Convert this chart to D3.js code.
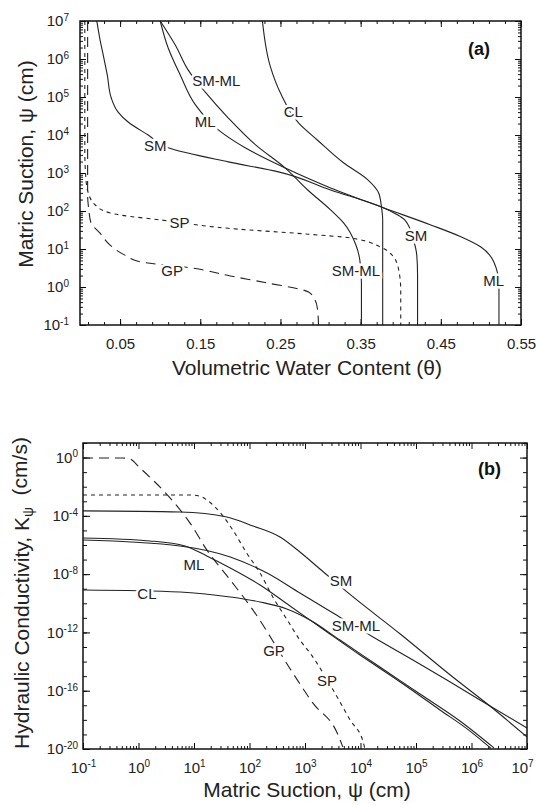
<!DOCTYPE html>
<html>
<head>
<meta charset="utf-8">
<script src="https://cdn.jsdelivr.net/npm/d3@7"></script>
<style>
  body { margin: 0; background: #fff; }
  svg { display: block; font-family: "Liberation Sans", Arial, Helvetica, sans-serif; }
</style>
</head>
<body>
<div id="chart"></div>
<script>
// ---- (a) water retention curves, [theta, psi (cm)] ----
const gpRetention = [[0.0095, 1e7], [0.0095, 260], [0.011, 107], [0.0135, 50], [0.025, 26], [0.0375, 12.7],
  [0.056, 6.9], [0.0775, 4.5], [0.1375, 3.2], [0.1875, 1.95], [0.234, 1.27], [0.285, 0.74], [0.2925, 0.48],
  [0.296, 0.28], [0.2975, 0.1]];
const spRetention = [[0.006, 1e7], [0.006, 4e3], [0.0075, 660], [0.01, 316], [0.019, 144], [0.0375, 89],
  [0.051, 78], [0.101, 58], [0.185, 35], [0.285, 24.5], [0.3375, 19.5], [0.375, 11.2], [0.391, 6.2],
  [0.3975, 2.8], [0.40, 0.83], [0.40, 0.1]];
const smRetention = [[0.021, 1e7], [0.025, 3.2e6], [0.029, 1.27e6], [0.034, 3.8e5], [0.039, 9.4e4],
  [0.0475, 4.0e4], [0.06, 2.2e4], [0.085, 1.0e4], [0.11, 4.6e3], [0.185, 1.96e3], [0.2475, 1.07e3],
  [0.3125, 357], [0.376, 127], [0.406, 55], [0.416, 17], [0.42, 6.9], [0.421, 2.1], [0.421, 0.1]];
const smmlRetention = [[0.10, 1e7], [0.119, 2.3e6], [0.135, 5.1e5], [0.156, 1.36e5], [0.185, 2.8e4],
  [0.219, 5.5e3], [0.256, 1.35e3], [0.284, 357], [0.3125, 107], [0.329, 48], [0.344, 12.9], [0.349, 5.1],
  [0.351, 1.27], [0.351, 0.1]];
const mlRetention = [[0.10, 1e7], [0.11, 1.94e6], [0.125, 3.8e5], [0.144, 6.2e4], [0.1725, 1.36e4],
  [0.206, 4.6e3], [0.256, 1.35e3], [0.3125, 405], [0.376, 127], [0.4375, 43], [0.475, 21], [0.50, 11.3],
  [0.516, 4.6], [0.5225, 1.13], [0.5225, 0.1]];
const clRetention = [[0.2275, 1e7], [0.2375, 6.2e5], [0.25, 1.27e5], [0.2725, 2.1e4], [0.296, 7.4e3],
  [0.329, 1.83e3], [0.359, 660], [0.3725, 297], [0.376, 127], [0.3775, 58], [0.3775, 0.1]];

// ---- (b) hydraulic conductivity curves, [psi (cm), K (cm/s)] ----
const gpConductivity = [[0.1, 0.93], [0.52, 0.93], [0.7, 0.8], [1.06, 0.195], [3.7, 1.7e-3], [8.5, 3.2e-5],
  [17, 4.6e-7], [45, 4.0e-9], [115, 3.5e-11], [600, 1.7e-15], [1380, 1.45e-17], [3800, 1.26e-19], [4800, 1.4e-20]];
const spConductivity = [[0.1, 2.7e-3], [8.5, 2.7e-3], [13, 2.2e-3], [17, 1.23e-3], [30, 1.6e-4], [50, 1.07e-5],
  [89, 2.8e-7], [155, 1.2e-8], [263, 2.7e-10], [480, 7.1e-12], [810, 3.0e-13], [1230, 3.9e-14],
  [3800, 3.7e-17], [6500, 9.8e-19], [11200, 3.0e-20], [12000, 1e-20]];
const smConductivity = [[0.1, 2.2e-4], [5.6, 1.85e-4], [39, 8.4e-5], [116, 2.0e-5], [355, 3.5e-6],
  [810, 3.3e-7], [1860, 2.26e-8], [5700, 6.0e-10], [5.2e4, 7.8e-13], [4.6e5, 8.7e-16], [2.15e6, 8.9e-18],
  [1e7, 6.7e-20]];
const smmlConductivity = [[0.1, 2.2e-6], [5.6, 8.6e-7], [45, 1.5e-7], [207, 1.2e-8], [810, 5.1e-10],
  [3200, 2.16e-11], [1.68e4, 4.9e-13], [8.8e4, 1.29e-14], [3.6e5, 5.4e-16], [1.42e6, 2.3e-17], [1e7, 2.8e-19]];
const mlConductivity = [[0.1, 3.0e-6], [1.6, 1.9e-6], [6.9, 8.6e-7], [17, 1.76e-7], [45, 2.65e-8],
  [155, 1.8e-9], [537, 6.5e-11], [1860, 2.36e-12], [9800, 2.8e-14], [5.2e4, 4.0e-16], [2.7e5, 4.8e-18],
  [9.4e5, 1.7e-19], [2.25e6, 1.1e-20]];
const clConductivity = [[0.1, 8.2e-10], [5.6, 6.0e-10], [45, 2.7e-10], [155, 1.23e-10], [470, 4.06e-11],
  [1230, 7.1e-12], [4270, 3.0e-13], [2.24e4, 4.2e-15], [1.18e5, 6.0e-17], [6.2e5, 8.4e-19], [2.54e6, 1.2e-20]];

// curve labels, in data units of each panel
const retentionLabels = [["SM-ML", 0.17, 2.6e5], ["ML", 0.156, 2.3e4], ["SM", 0.094, 5.1e3], ["CL", 0.266, 4.1e4],
  ["SP", 0.124, 48], ["GP", 0.115, 2.6], ["SM", 0.419, 23], ["SM-ML", 0.344, 2.6], ["ML", 0.516, 1.5]];
const conductivityLabels = [["ML", 10, 4.3e-8], ["CL", 1.42, 4.4e-10], ["SM", 4460, 3.4e-9],
  ["SM-ML", 8300, 2.8e-12], ["GP", 276, 5.4e-14], ["SP", 2490, 4.7e-16]];

// ticks
const thetaTicks = [0.05, 0.15, 0.25, 0.35, 0.45, 0.55];
const psiTicksA = [1e-1, 1e0, 1e1, 1e2, 1e3, 1e4, 1e5, 1e6, 1e7];
const psiTicksB = [1e-1, 1e0, 1e1, 1e2, 1e3, 1e4, 1e5, 1e6, 1e7];
const kTicks = [1e0, 1e-4, 1e-8, 1e-12, 1e-16, 1e-20];

const dashes = { GP: "10,6", SP: "4,4" };

const width = 536, height = 805;
const svg = d3.select("#chart").append("svg")
    .attr("width", width)
    .attr("height", height);

const boxA = {left: 80, right: 521, top: 21, bottom: 325};
const boxB = {left: 83, right: 527, top: 443, bottom: 749};

const xA = d3.scaleLinear().domain([0, 0.55]).range([boxA.left, boxA.right]);
const yA = d3.scaleLog().domain([1e-1, 1e7]).range([boxA.bottom, boxA.top]);
const xB = d3.scaleLog().domain([1e-1, 1e7]).range([boxB.left, boxB.right]);
const yB = d3.scaleLog().domain([1e-20, 1e1]).range([boxB.bottom, boxB.top]);

function minorLog(lo, hi) {
  const out = [];
  for (let e = lo; e < hi; e++) for (let m = 2; m <= 9; m++) out.push(m * Math.pow(10, e));
  return out;
}

// plain tick marks, pointing into the box
function ticks(box, axis, scale, values, size) {
  const pos = {
    bottom: `translate(0,${box.bottom})`, top: `translate(0,${box.top})`,
    left: `translate(${box.left},0)`, right: `translate(${box.right},0)`
  };
  const fn = {bottom: d3.axisBottom, top: d3.axisTop, left: d3.axisLeft, right: d3.axisRight}[axis];
  const g = svg.append("g").attr("transform", pos[axis])
      .call(fn(scale).tickValues(values).tickSize(-size).tickFormat(""));
  g.select(".domain").remove();
  g.selectAll(".tick line").attr("stroke", "#111").attr("stroke-width", 1);
  return g;
}

function powerLabels(g) {
  g.selectAll(".tick text").each(function(d) {
    const t = d3.select(this).text(null);
    t.append("tspan").text("10");
    t.append("tspan").attr("dy", "-0.55em").attr("font-size", 10).text(Math.round(Math.log10(d)));
  });
}

function styleLabels(g) {
  g.attr("font-size", 15).attr("font-family", null);
  g.selectAll(".tick text").attr("fill", "#222");
}

// ---------- panel (a) ----------
svg.append("defs").append("clipPath").attr("id", "clipA").append("rect")
    .attr("x", boxA.left).attr("y", boxA.top)
    .attr("width", boxA.right - boxA.left).attr("height", boxA.bottom - boxA.top);
svg.select("defs").append("clipPath").attr("id", "clipB").append("rect")
    .attr("x", boxB.left).attr("y", boxB.top)
    .attr("width", boxB.right - boxB.left).attr("height", boxB.bottom - boxB.top);

ticks(boxA, "bottom", xA, d3.range(0.01, 0.55, 0.02), 3);
ticks(boxA, "top", xA, d3.range(0.01, 0.55, 0.02), 3);
ticks(boxA, "top", xA, thetaTicks, 6);
ticks(boxA, "left", yA, minorLog(-1, 7), 3);
ticks(boxA, "right", yA, minorLog(-1, 7), 3);
ticks(boxA, "right", yA, psiTicksA, 6);

const xAxisA = svg.append("g").attr("transform", `translate(0,${boxA.bottom})`)
    .call(d3.axisBottom(xA).tickValues(thetaTicks).tickSize(-6).tickPadding(13).tickFormat(d3.format(".2f")));
xAxisA.select(".domain").remove();
styleLabels(xAxisA);

const yAxisA = svg.append("g").attr("transform", `translate(${boxA.left},0)`)
    .call(d3.axisLeft(yA).tickValues(psiTicksA).tickSize(-6).tickPadding(11).tickFormat(""));
yAxisA.select(".domain").remove();
styleLabels(yAxisA);
powerLabels(yAxisA);

const retentionSeries = [
  {name: "GP", pts: gpRetention}, {name: "SP", pts: spRetention}, {name: "SM", pts: smRetention},
  {name: "SM-ML", pts: smmlRetention}, {name: "ML", pts: mlRetention}, {name: "CL", pts: clRetention}
];
const lineA = d3.line().x(d => xA(d[0])).y(d => yA(d[1])).curve(d3.curveMonotoneY);

svg.append("g").attr("clip-path", "url(#clipA)")
  .selectAll("path").data(retentionSeries).join("path")
    .attr("d", d => lineA(d.pts))
    .attr("fill", "none")
    .attr("stroke", "#222")
    .attr("stroke-width", 1.1)
    .attr("stroke-dasharray", d => dashes[d.name] || null);

svg.append("g").selectAll("text").data(retentionLabels).join("text")
    .attr("x", d => xA(d[1])).attr("y", d => yA(d[2]))
    .attr("dy", "0.35em")
    .attr("text-anchor", "middle")
    .attr("font-size", 15)
    .attr("fill", "#222")
    .attr("stroke", "#fff").attr("stroke-width", 5).attr("paint-order", "stroke")
    .text(d => d[0]);

svg.append("rect")
    .attr("x", boxA.left).attr("y", boxA.top)
    .attr("width", boxA.right - boxA.left).attr("height", boxA.bottom - boxA.top)
    .attr("fill", "none").attr("stroke", "#111").attr("stroke-width", 1.5);

svg.append("text").attr("x", 468).attr("y", 55)
    .attr("font-size", 18).attr("font-weight", "bold").attr("fill", "#111").text("(a)");

svg.append("text").attr("x", 307).attr("y", 375)
    .attr("text-anchor", "middle").attr("font-size", 21).attr("fill", "#222")
    .text("Volumetric Water Content (θ)");

svg.append("text").attr("transform", "translate(33,164) rotate(-90)")
    .attr("text-anchor", "middle").attr("font-size", 21).attr("fill", "#222")
    .text("Matric Suction, ψ (cm)");

// ---------- panel (b) ----------
ticks(boxB, "bottom", xB, minorLog(-1, 7), 3);
ticks(boxB, "top", xB, minorLog(-1, 7), 3);
ticks(boxB, "top", xB, psiTicksB, 6);
const kDecades = d3.range(-20, 2).map(e => Math.pow(10, e));
ticks(boxB, "left", yB, kDecades, 4);
ticks(boxB, "right", yB, kDecades, 4);
ticks(boxB, "right", yB, kTicks, 7);

const xAxisB = svg.append("g").attr("transform", `translate(0,${boxB.bottom})`)
    .call(d3.axisBottom(xB).tickValues(psiTicksB).tickSize(-6).tickPadding(13).tickFormat(""));
xAxisB.select(".domain").remove();
styleLabels(xAxisB);
powerLabels(xAxisB);
// last label sits against the page edge; nudge it in
xAxisB.selectAll(".tick text").filter(d => d === 1e7).attr("dx", -5);

const yAxisB = svg.append("g").attr("transform", `translate(${boxB.left},0)`)
    .call(d3.axisLeft(yB).tickValues(kTicks).tickSize(-7).tickPadding(5).tickFormat(""));
yAxisB.select(".domain").remove();
styleLabels(yAxisB);
powerLabels(yAxisB);

const conductivitySeries = [
  {name: "GP", pts: gpConductivity}, {name: "SP", pts: spConductivity}, {name: "SM", pts: smConductivity},
  {name: "SM-ML", pts: smmlConductivity}, {name: "ML", pts: mlConductivity}, {name: "CL", pts: clConductivity}
];
const lineB = d3.line().x(d => xB(d[0])).y(d => yB(d[1])).curve(d3.curveMonotoneX);

svg.append("g").attr("clip-path", "url(#clipB)")
  .selectAll("path").data(conductivitySeries).join("path")
    .attr("d", d => lineB(d.pts))
    .attr("fill", "none")
    .attr("stroke", "#222")
    .attr("stroke-width", 1.1)
    .attr("stroke-dasharray", d => dashes[d.name] || null);

svg.append("g").selectAll("text").data(conductivityLabels).join("text")
    .attr("x", d => xB(d[1])).attr("y", d => yB(d[2]))
    .attr("dy", "0.35em")
    .attr("text-anchor", "middle")
    .attr("font-size", 15)
    .attr("fill", "#222")
    .attr("stroke", "#fff").attr("stroke-width", 5).attr("paint-order", "stroke")
    .text(d => d[0]);

svg.append("rect")
    .attr("x", boxB.left).attr("y", boxB.top)
    .attr("width", boxB.right - boxB.left).attr("height", boxB.bottom - boxB.top)
    .attr("fill", "none").attr("stroke", "#111").attr("stroke-width", 1.5);

svg.append("text").attr("x", 478).attr("y", 475)
    .attr("font-size", 18).attr("font-weight", "bold").attr("fill", "#111").text("(b)");

svg.append("text").attr("x", 307).attr("y", 797)
    .attr("text-anchor", "middle").attr("font-size", 21).attr("fill", "#222")
    .text("Matric Suction, ψ (cm)");

const kTitle = svg.append("text").attr("transform", "translate(29,593) rotate(-90)")
    .attr("text-anchor", "middle").attr("font-size", 21).attr("fill", "#222");
kTitle.append("tspan").text("Hydraulic Conductivity, K");
kTitle.append("tspan").attr("dy", "0.3em").attr("font-size", 14).text("ψ");
kTitle.append("tspan").attr("dy", "-0.3em").text("\u00a0 (cm/s)");
</script>
</body>
</html>
